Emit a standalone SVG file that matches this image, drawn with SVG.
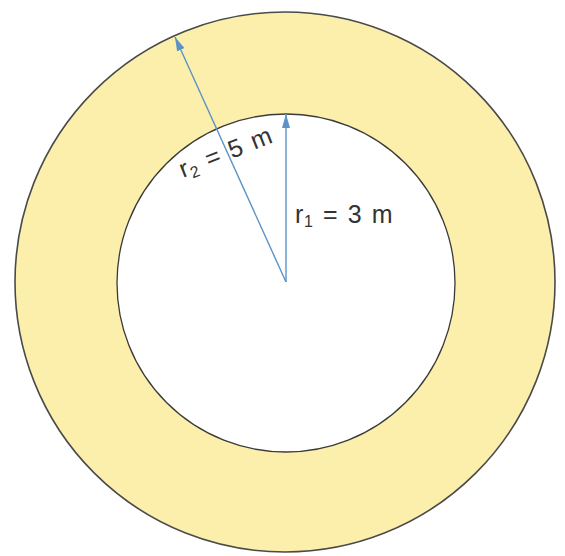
<svg xmlns="http://www.w3.org/2000/svg" width="565" height="556" viewBox="0 0 565 556">
<style>
.lbl{font-family:"Liberation Sans",Arial,sans-serif;font-size:25px;fill:#333333;letter-spacing:0.6px;word-spacing:2px}
.sub{font-size:16px}
.arr{stroke:#5b93c7;stroke-width:1.4;fill:none}
</style>
<defs>
<marker id="ah" markerUnits="userSpaceOnUse" markerWidth="15" markerHeight="10" refX="14" refY="5" orient="auto">
<path d="M0,1 L14,5 L0,9 Z" fill="#5b93c7"/>
</marker>
</defs>
<rect width="565" height="556" fill="#ffffff"/>
<g id="outer-circle">
<circle cx="285" cy="282" r="270" fill="#fcefac" stroke="#4a4a4a" stroke-width="1.6"/>
</g>
<g id="inner-circle">
<circle cx="286" cy="283" r="169" fill="#ffffff" stroke="#3a3a3a" stroke-width="1.3"/>
</g>
<g id="connectors">
<line class="arr" x1="286" y1="282" x2="286" y2="114" marker-end="url(#ah)"/>
<line class="arr" x1="286" y1="282" x2="175" y2="37" marker-end="url(#ah)"/>
</g>
<g id="label-r1">
<text class="lbl" x="295" y="223">r<tspan class="sub" dy="4">1</tspan><tspan dy="-4"> = 3 m</tspan></text>
</g>
<g id="label-r2">
<text class="lbl" x="183" y="178" transform="rotate(-21.5 183 178)">r<tspan class="sub" dy="4">2</tspan><tspan dy="-4"> = 5 m</tspan></text>
</g>
</svg>
